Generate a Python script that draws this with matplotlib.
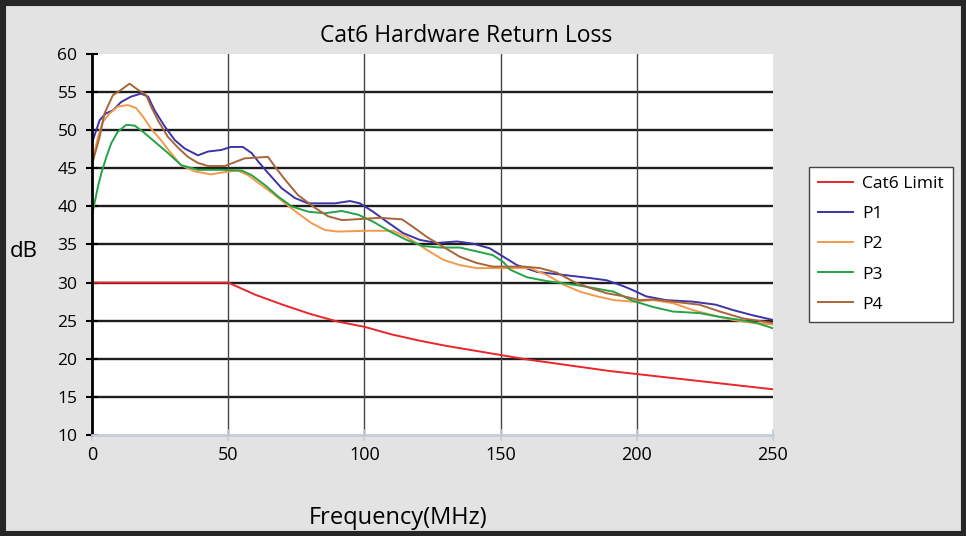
import matplotlib.pyplot as plt
from matplotlib.patches import Rectangle

# values
limit_freq = [0, 50, 55, 60, 70, 80, 90, 100, 110, 120, 130, 140, 150, 160,
              170, 180, 190, 200, 210, 220, 230, 240, 250]
limit_db = [30, 30, 29.2, 28.4, 27.1, 25.9, 24.9, 24.2, 23.2, 22.4, 21.7, 21.1,
            20.5, 19.9, 19.4, 18.9, 18.4, 18.0, 17.6, 17.2, 16.8, 16.4, 16.0]

p1_freq = [0, 2.8, 5.1, 7.7, 10.7, 14.3, 18, 20.6, 23, 26.7, 30.4, 34, 38.9,
           42.6, 47.4, 51, 55.4, 58.6, 61, 64.6, 69.6, 74.5, 79.3, 89.2, 94.7,
           98.4, 103.2, 108.2, 114.2, 120.4, 126.6, 134, 140, 146, 151, 156,
           163.4, 173.3, 182.8, 189, 195.3, 198.6, 203.4, 210.7, 220.6, 229,
           235.3, 242.7, 250]
p1_db = [48.3, 51.3, 52.2, 52.6, 53.7, 54.4, 54.8, 54.4, 52.6, 50.5, 48.7, 47.6,
         46.7, 47.2, 47.4, 47.8, 47.8, 47.0, 45.9, 44.4, 42.4, 41.1, 40.4, 40.4,
         40.7, 40.4, 39.3, 38.0, 36.5, 35.6, 35.2, 35.4, 35.1, 34.5, 33.4, 32.3,
         31.4, 31.0, 30.6, 30.3, 29.5, 29.0, 28.2, 27.7, 27.5, 27.1, 26.4, 25.7,
         25.1]

p2_freq = [0, 2.2, 4, 6.5, 9.5, 13.2, 16.2, 18.7, 21.7, 25.3, 29, 32.7, 37.7,
           43.7, 48.7, 53.6, 57.3, 61, 66, 70.9, 75.6, 80.6, 85.5, 90.3, 101,
           110.5, 115.5, 122.9, 128.9, 135, 141.2, 151, 160.8, 167, 173.3,
           179.2, 185.4, 191.6, 198.6, 206, 213.3, 220.6, 228, 235.3, 242.7, 250]
p2_db = [45.5, 49.1, 51.1, 52.2, 53.1, 53.3, 52.9, 51.8, 50.2, 48.7, 47.0, 45.4,
         44.6, 44.2, 44.5, 44.7, 44.1, 43.1, 41.8, 40.4, 39.1, 37.8, 36.9, 36.7,
         36.8, 36.8, 36.0, 34.3, 33.0, 32.3, 31.9, 31.9, 31.9, 31.0, 29.7, 28.8,
         28.2, 27.7, 27.5, 27.7, 27.3, 26.4, 25.7, 25.1, 24.7, 24.5]

p3_freq = [0, 2.2, 3.4, 5.3, 7.1, 9.5, 12.6, 15.7, 18.7, 23, 27.9, 32.8, 38.9,
           47.5, 55, 58.6, 63.5, 68.3, 73.3, 79.4, 85.5, 91.7, 97.8, 103.2,
           109.4, 115.5, 121.5, 127.8, 135, 141.2, 147.2, 151, 153.5, 159.7, 167,
           173.3, 179.2, 185.4, 191.6, 198.6, 206, 213.3, 223, 230.5, 238, 244,
           250]
p3_db = [38.8, 42.6, 44.3, 46.5, 48.3, 49.8, 50.7, 50.6, 49.8, 48.5, 47.0, 45.4,
         44.8, 44.8, 44.7, 44.1, 42.8, 41.3, 40.0, 39.3, 39.1, 39.4, 38.9, 38.0,
         36.7, 35.6, 34.8, 34.6, 34.6, 34.1, 33.6, 32.7, 31.7, 30.7, 30.2, 29.9,
         29.6, 29.2, 28.8, 27.6, 26.8, 26.2, 26.0, 25.5, 25.1, 24.7, 24.0]

p4_freq = [0, 2.8, 4.6, 7.7, 10.7, 13.8, 16.9, 19.9, 21.7, 24.2, 27.9, 31.6,
           35.2, 38.9, 42.6, 48.8, 56, 64.6, 67.2, 70.9, 75.6, 81.9, 86.7, 91.8,
           105.7, 113.8, 117.9, 122.9, 128.9, 135, 141, 147, 158.6, 164.5, 170.7,
           176.9, 182.8, 189, 195.3, 201, 206, 213.3, 223, 230.5, 239, 250]
p4_db = [45.5, 49.1, 52.2, 54.6, 55.3, 56.1, 55.3, 54.6, 53.1, 51.3, 49.1, 47.7,
         46.5, 45.7, 45.3, 45.3, 46.3, 46.5, 45.2, 43.5, 41.5, 39.8, 38.7, 38.2,
         38.5, 38.3, 37.3, 36.0, 34.7, 33.4, 32.6, 32.1, 32.1, 31.9, 31.3, 30.1,
         29.3, 28.6, 28.2, 27.7, 27.8, 27.5, 27.1, 26.2, 25.3, 24.7]

y_ticks = [10, 15, 20, 25, 30, 35, 40, 45, 50, 55, 60]
x_ticks = [0, 50, 100, 150, 200, 250]

plt.rcParams['font.family'] = ['Open Sans', 'DejaVu Sans']

fig = plt.figure(figsize=(9.66, 5.36), dpi=100, facecolor='#e3e3e3')
ax = fig.add_axes([0.0952, 0.1884, 0.705, 0.7109])
ax.set_facecolor('white')

ax.plot(limit_freq, limit_db, color='#e8262b', lw=1.4, label='Cat6 Limit')
ax.plot(p1_freq, p1_db, color='#3b35a6', lw=1.4, label='P1')
ax.plot(p2_freq, p2_db, color='#f39a4a', lw=1.4, label='P2')
ax.plot(p3_freq, p3_db, color='#25a348', lw=1.4, label='P3')
ax.plot(p4_freq, p4_db, color='#a8653a', lw=1.4, label='P4')

ax.set_xlim(0, 250)
ax.set_ylim(10, 60)
ax.set_xticks(x_ticks)
ax.set_yticks(y_ticks)

# grid: dark horizontal lines, thinner vertical ones
for y in y_ticks[1:-1]:
    ax.axhline(y, color='#1e1e1e', lw=1.7, zorder=0.5)
for x in x_ticks[1:-1]:
    ax.axvline(x, color='#444444', lw=1.0, zorder=0.5)

for side in ['top', 'right']:
    ax.spines[side].set_visible(False)
ax.spines['left'].set_color('black')
ax.spines['left'].set_linewidth(2)
ax.spines['bottom'].set_color('#c5ccd6')
ax.spines['bottom'].set_linewidth(2)

ax.tick_params(axis='y', direction='inout', length=9, width=1.5, color='black',
               labelsize=12.5, pad=6)
ax.tick_params(axis='x', direction='inout', length=8, width=1.2, color='#c5ccd6',
               labelsize=13, pad=4)

ax.set_xlabel('Frequency(MHz)', fontsize=17)
ax.xaxis.set_label_coords(0.45, -0.185)
ax.set_ylabel('dB', fontsize=16, rotation=0)
ax.yaxis.set_label_coords(-0.1, 0.455)

fig.text(0.483, 0.932, 'Cat6 Hardware Return Loss', fontsize=16.5, ha='center', va='center')

leg = ax.legend(loc='upper left', bbox_to_anchor=(1.04, 0.727), fontsize=12.5,
                frameon=True, fancybox=False, framealpha=1, edgecolor='#444444',
                handlelength=2.0, labelspacing=0.8, borderpad=0.55, handletextpad=0.5)
leg.get_frame().set_linewidth(1.0)

fig.patches.append(Rectangle((0, 0), 1, 1, transform=fig.transFigure, fill=False,
                             edgecolor='#262626', lw=8))

plt.savefig('out.png', dpi=100, facecolor=fig.get_facecolor())
plt.close()
